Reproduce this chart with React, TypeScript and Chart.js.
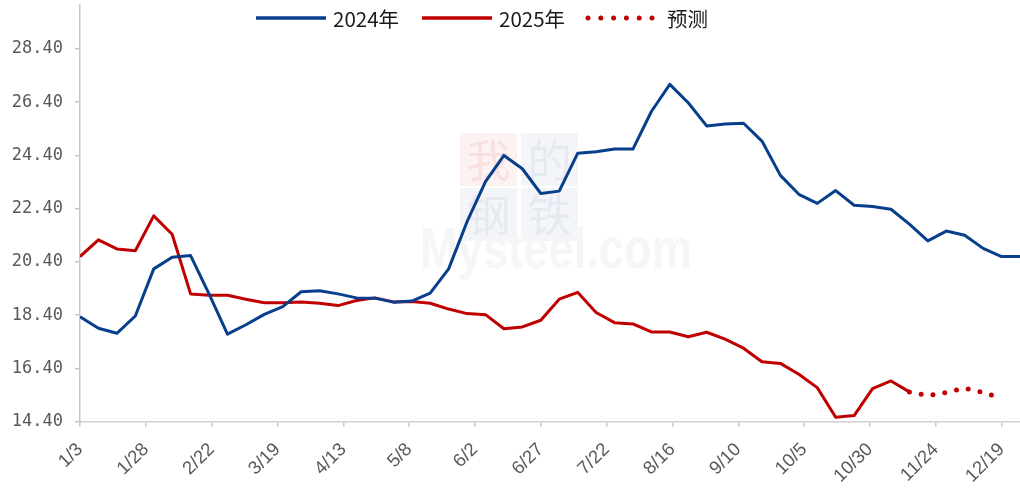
import React, { useEffect, useRef } from "react";
import { Chart, registerables } from "chart.js";

Chart.register(...registerables);

// Weekly observation dates (2025 calendar positions)
const weeks = [
  "1/3", "1/10", "1/17", "1/24", "1/31", "2/7", "2/14", "2/21", "2/28", "3/7",
  "3/14", "3/21", "3/28", "4/4", "4/11", "4/18", "4/25", "5/2", "5/9", "5/16",
  "5/23", "5/30", "6/6", "6/13", "6/20", "6/27", "7/4", "7/11", "7/18", "7/25",
  "8/1", "8/8", "8/15", "8/22", "8/29", "9/5", "9/12", "9/19", "9/26", "10/3",
  "10/10", "10/17", "10/24", "10/31", "11/7", "11/14", "11/21", "11/28", "12/5", "12/12",
  "12/19", "12/26",
];

const xTickLabels = [
  "1/3", "1/28", "2/22", "3/19", "4/13", "5/8", "6/2", "6/27",
  "7/22", "8/16", "9/10", "10/5", "10/30", "11/24", "12/19",
];

const yTickValues = [14.4, 16.4, 18.4, 20.4, 22.4, 24.4, 26.4, 28.4];

const price2024 = [
  18.34, 17.91, 17.72, 18.37, 20.14, 20.58, 20.64, 19.2, 17.69, 18.04,
  18.43, 18.72, 19.28, 19.32, 19.2, 19.05, 19.04, 18.89, 18.93, 19.23,
  20.14, 21.91, 23.42, 24.4, 23.9, 22.97, 23.06, 24.48, 24.54, 24.64,
  24.64, 26.05, 27.07, 26.38, 25.51, 25.58, 25.61, 24.94, 23.65, 22.94,
  22.6, 23.08, 22.53, 22.48, 22.38, 21.82, 21.19, 21.56, 21.4, 20.91,
  20.6, 20.6,
];

const price2025 = [
  20.6, 21.23, 20.89, 20.82, 22.13, 21.44, 19.2, 19.15, 19.15, 19.0,
  18.87, 18.87, 18.9, 18.85, 18.76, 18.95, 19.05, 18.9, 18.91, 18.85,
  18.63, 18.46, 18.42, 17.89, 17.96, 18.21, 19.0, 19.26, 18.5, 18.12,
  18.07, 17.77, 17.77, 17.59, 17.76, 17.5, 17.16, 16.65, 16.59, 16.18,
  15.68, 14.57, 14.63, 15.64, 15.93, 15.52,
];

// Forecast starts at the last actual 2025 week
const forecast2025 = [15.52, 15.38, 15.5, 15.66, 15.5, 15.28];

const BLUE = "#073f8c";
const RED = "#c00000";

const legendItems = [
  { label: "2024年", color: BLUE, dotted: false },
  { label: "2025年", color: RED, dotted: false },
  { label: "预测", color: RED, dotted: true },
];

function dayOffset(md: string): number {
  const [m, d] = md.split("/").map(Number);
  return (Date.UTC(2025, m - 1, d) - Date.UTC(2025, 0, 3)) / 86400000;
}

const legendPlugin = {
  id: "customLegend",
  afterDraw(chart: any) {
    const ctx = chart.ctx as CanvasRenderingContext2D;
    ctx.save();
    ctx.font = '20.5px "Noto Sans CJK SC"';
    ctx.textBaseline = "middle";
    ctx.textAlign = "left";
    let x = 256;
    const y = 18;
    for (const item of legendItems) {
      const len = item.dotted ? 64.01 : 70;
      ctx.strokeStyle = item.color;
      if (item.dotted) {
        ctx.lineWidth = 5;
        ctx.lineCap = "round";
        ctx.setLineDash([0, 12.8]);
      } else {
        ctx.lineWidth = 3.5;
        ctx.lineCap = "butt";
        ctx.setLineDash([]);
      }
      ctx.beginPath();
      ctx.moveTo(x, y);
      ctx.lineTo(x + len, y);
      ctx.stroke();
      ctx.setLineDash([]);
      const tx = x + len + (item.dotted ? 15 : 7);
      ctx.fillStyle = "#1a1a1a";
      ctx.fillText(item.label, tx, y + 1);
      x = tx + ctx.measureText(item.label).width + 23;
    }
    ctx.restore();
  },
};

const watermarkPlugin = {
  id: "watermark",
  beforeDatasetsDraw(chart: any) {
    const ctx = chart.ctx as CanvasRenderingContext2D;
    ctx.save();
    const boxes = [
      { ch: "我", x: 460, y: 133, bg: "#fdf2f2", fg: "#f7e0e0" },
      { ch: "的", x: 521, y: 133, bg: "#f3f5f9", fg: "#e6e9f1" },
      { ch: "钢", x: 460, y: 188, bg: "#f3f5f9", fg: "#e6e9f1" },
      { ch: "铁", x: 521, y: 188, bg: "#f3f5f9", fg: "#e6e9f1" },
    ];
    ctx.textAlign = "center";
    ctx.textBaseline = "middle";
    ctx.font = '44px "Noto Sans CJK SC"';
    for (const b of boxes) {
      ctx.fillStyle = b.bg;
      ctx.fillRect(b.x, b.y, 57, 53);
      ctx.fillStyle = b.fg;
      ctx.fillText(b.ch, b.x + 28.5, b.y + 27);
    }
    ctx.textAlign = "left";
    ctx.textBaseline = "alphabetic";
    ctx.font = 'bold 58px "Liberation Sans"';
    ctx.fillStyle = "#f6f6f6";
    ctx.fillText("Mysteel.com", 420, 268, 272);
    ctx.restore();
  },
};

export default function App() {
  const canvasRef = useRef<HTMLCanvasElement | null>(null);

  useEffect(() => {
    const canvas = canvasRef.current;
    if (!canvas) return;

    const data2024 = price2024.map((v, i) => ({ x: dayOffset(weeks[i]), y: v }));
    const data2025 = price2025.map((v, i) => ({ x: dayOffset(weeks[i]), y: v }));
    const fStart = price2025.length - 1;
    const dataForecast = forecast2025.map((v, i) => ({ x: dayOffset(weeks[fStart + i]), y: v }));
    const tickMap = new Map<number, string>();
    xTickLabels.forEach((l) => tickMap.set(dayOffset(l), l));

    const chart = new Chart(canvas, {
      type: "line",
      data: {
        datasets: [
          {
            label: "2024年",
            data: data2024,
            borderColor: BLUE,
            backgroundColor: BLUE,
            borderWidth: 3,
            pointRadius: 0,
            tension: 0,
            borderJoinStyle: "round",
          },
          {
            label: "预测",
            data: dataForecast,
            borderColor: RED,
            backgroundColor: RED,
            borderWidth: 5,
            borderDash: [0, 12],
            borderCapStyle: "round",
            pointRadius: 0,
            tension: 0,
          },
          {
            label: "2025年",
            data: data2025,
            borderColor: RED,
            backgroundColor: RED,
            borderWidth: 3,
            pointRadius: 0,
            tension: 0,
            borderJoinStyle: "round",
          },
        ],
      },
      options: {
        responsive: false,
        animation: false,
        devicePixelRatio: 1,
        layout: { padding: { top: 5, right: 0, left: 0, bottom: 0 } },
        plugins: {
          legend: { display: false },
          tooltip: { enabled: false },
        },
        scales: {
          x: {
            type: "linear",
            min: 0,
            max: dayOffset(weeks[weeks.length - 1]),
            afterBuildTicks: (scale: any) => {
              scale.ticks = xTickLabels.map((l) => ({ value: dayOffset(l) }));
            },
            afterFit: (scale: any) => {
              scale.height = 66.3;
              scale.paddingLeft = 0;
              scale.paddingRight = 0;
            },
            ticks: {
              autoSkip: false,
              maxRotation: 45,
              minRotation: 45,
              padding: 12,
              color: "#595959",
              font: { family: "Liberation Sans", size: 18.5 },
              callback: (value: any) => tickMap.get(Number(value)) ?? "",
            },
            grid: {
              drawOnChartArea: false,
              drawTicks: true,
              tickLength: 5,
              color: "#c8c8c8",
              lineWidth: 1.5,
            },
            border: { color: "#d0d0d0", width: 1.5 },
          },
          y: {
            type: "linear",
            min: 14.4,
            max: 30.05,
            afterBuildTicks: (scale: any) => {
              scale.ticks = yTickValues.map((v) => ({ value: v }));
            },
            afterFit: (scale: any) => {
              scale.width = 80;
              scale.paddingTop = 0;
              scale.paddingBottom = 0;
            },
            ticks: {
              padding: 12,
              color: "#595959",
              font: { family: "DejaVu Sans Mono", size: 17 },
              callback: (value: any) => Number(value).toFixed(2),
            },
            grid: {
              drawOnChartArea: false,
              drawTicks: true,
              tickLength: 5,
              color: "#c8c8c8",
              lineWidth: 1.5,
            },
            border: { color: "#c8c8c8", width: 1.5 },
          },
        },
      },
      plugins: [watermarkPlugin, legendPlugin],
    } as any);

    return () => {
      chart.destroy();
    };
  }, []);

  return (
    <div
      style={{
        position: "fixed",
        left: 0,
        top: 0,
        width: 1020,
        height: 488,
        background: "#ffffff",
      }}
    >
      <canvas ref={canvasRef} width={1020} height={488} style={{ display: "block" }} />
    </div>
  );
}
